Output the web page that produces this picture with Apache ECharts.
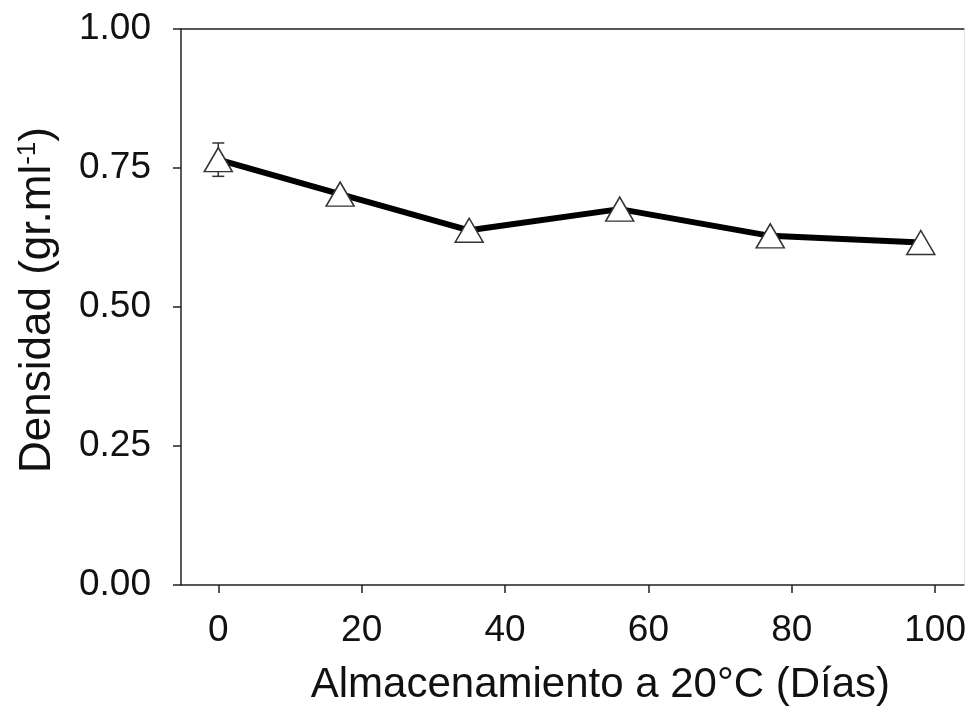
<!DOCTYPE html>
<html>
<head>
<meta charset="utf-8">
<script src="https://cdn.jsdelivr.net/npm/echarts@6.0.0/dist/echarts.min.js"></script>
<style>
html, body { margin: 0; padding: 0; background: #fff; }
#main { width: 969px; height: 714px; }
</style>
</head>
<body>
<div id="main"></div>
<script>
// dias de almacenamiento a 20 C y densidad medida
var dias = [0, 17, 35, 56, 77, 98];
var densidad = [0.765, 0.703, 0.638, 0.676, 0.628, 0.616];
var errorDensidad = [0.03, 0, 0, 0, 0, 0];
var xTicks = [0, 20, 40, 60, 80, 100];
var yTicks = [0, 0.25, 0.5, 0.75, 1];

var myChart = echarts.init(document.getElementById('main'));

var puntos = [], barras = [];
for (var i = 0; i < dias.length; i++) {
	puntos.push([dias[i], densidad[i]]);
	barras.push([dias[i], densidad[i], errorDensidad[i]]);
}

var fuente = 'Liberation Sans, Arial, sans-serif';

var option = {
	backgroundColor: '#fff',
	animation: false,
	grid: {
		left: 181,
		right: 5,
		top: 29,
		bottom: 129
	},
	xAxis: [{
		type: 'value',
		min: -5.2,
		max: 104,
		axisLine: { onZero: false, lineStyle: { color: '#222', width: 1.5 } },
		axisTick: { customValues: xTicks, length: 8, lineStyle: { color: '#222', width: 1.5 } },
		axisLabel: { customValues: xTicks, margin: 27, fontSize: 37, color: '#111', fontFamily: fuente },
		splitLine: { show: false },
		name: 'Almacenamiento a 20°C (Días)',
		nameLocation: 'middle',
		nameGap: 79,
		nameTextStyle: { fontSize: 42, color: '#111', fontFamily: fuente, padding: [0, 0, 0, 56] }
	}, {
		type: 'value',
		position: 'top',
		min: -5.2,
		max: 104,
		axisLine: { onZero: false, lineStyle: { color: '#222', width: 1.5 } },
		axisTick: { show: false },
		axisLabel: { show: false },
		splitLine: { show: false }
	}],
	yAxis: [{
		type: 'value',
		min: yTicks[0],
		max: yTicks[yTicks.length - 1],
		interval: 0.25,
		axisLine: { show: true, onZero: false, lineStyle: { color: '#222', width: 1.5 } },
		axisTick: { show: true, length: 8, lineStyle: { color: '#222', width: 1.5 } },
		axisLabel: {
			margin: 30,
			fontSize: 37,
			color: '#111',
			fontFamily: fuente,
			formatter: function (v) { return v.toFixed(2); }
		},
		splitLine: { show: false },
		name: '{a|Densidad (gr.ml}{s|-1}{a|)}',
		nameLocation: 'middle',
		nameGap: 120,
		nameTextStyle: {
			padding: [0, 0, 0, 14],
			rich: {
				a: { fontSize: 44, color: '#111', fontFamily: fuente },
				s: { fontSize: 26, color: '#111', fontFamily: fuente, verticalAlign: 'top', padding: [0, 0, 20, 0] }
			}
		}
	}, {
		type: 'value',
		position: 'right',
		min: 0,
		max: 1,
		axisLine: { show: true, onZero: false, lineStyle: { color: '#e6e6e6', width: 1 } },
		axisTick: { show: false },
		axisLabel: { show: false },
		splitLine: { show: false }
	}],
	series: [{
		name: 'error',
		type: 'custom',
		z: 1,
		data: barras,
		renderItem: function (params, api) {
			var e = api.value(2);
			if (!e) return null;
			var x = api.value(0), y = api.value(1);
			var top = api.coord([x, y + e]);
			var bot = api.coord([x, y - e]);
			var estilo = { stroke: '#333', lineWidth: 1.5 };
			return {
				type: 'group',
				children: [
					{ type: 'line', shape: { x1: top[0], y1: top[1], x2: bot[0], y2: bot[1] }, style: estilo },
					{ type: 'line', shape: { x1: top[0] - 6, y1: top[1], x2: top[0] + 6, y2: top[1] }, style: estilo },
					{ type: 'line', shape: { x1: bot[0] - 6, y1: bot[1], x2: bot[0] + 6, y2: bot[1] }, style: estilo }
				]
			};
		}
	}, {
		name: 'densidad',
		type: 'line',
		z: 3,
		data: puntos,
		symbol: 'triangle',
		symbolSize: [28, 24],
		itemStyle: { color: '#fff', borderColor: '#333', borderWidth: 1.5 },
		lineStyle: { color: '#000', width: 6 }
	}]
};

myChart.setOption(option);
</script>
</body>
</html>
